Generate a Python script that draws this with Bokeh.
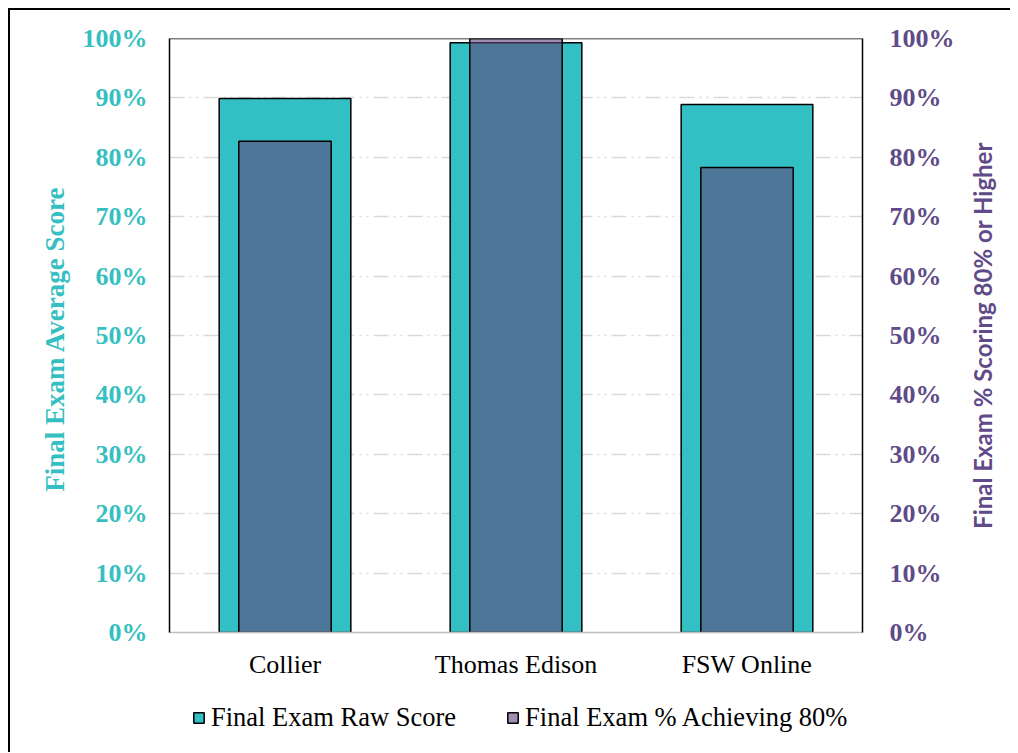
import math
from bokeh.plotting import figure
from bokeh.layouts import column, row
from bokeh.models import (ColumnDataSource, LinearAxis, NumeralTickFormatter, Span,
                          Legend, LegendItem, FixedTicker, Label, FactorRange, Range1d)
from bokeh.embed import file_html
from bokeh.resources import INLINE

campuses = ["Collier", "Thomas Edison", "FSW Online"]
raw_score = [0.899, 0.993, 0.889]
pct_achieving_80 = [0.827, 1.000, 0.783]
ticks = [i / 10 for i in range(11)]

TEAL = "#33C0C4"
TEAL_TXT = "#36BFC2"
PURPLE = "#60447B"
PURPLE_TXT = "#5F4B88"

src = ColumnDataSource(dict(campus=campuses, raw=raw_score, pct=pct_achieving_80))

p = figure(x_range=campuses, y_range=(0, 1), frame_width=693, frame_height=594,
           output_backend="svg", toolbar_location=None,
           min_border_left=159, min_border_right=100, min_border_top=28,
           min_border_bottom=60)
p.outline_line_color = None
p.background_fill_color = "white"
p.border_fill_color = "white"

bar_raw = dict(fill_color=TEAL, line_color="black", line_width=1.5)
bar_pct = dict(fill_color=PURPLE, fill_alpha=0.6, line_color="black", line_alpha=1.0,
               line_width=1.5)
p.vbar(x="campus", top="raw", width=0.57, source=src, **bar_raw)
p.vbar(x="campus", top="pct", width=0.40, source=src, **bar_pct)

p.xgrid.grid_line_color = None
p.ygrid.ticker = FixedTicker(ticks=ticks)
p.ygrid.grid_line_color = "#D9D9D9"
p.ygrid.grid_line_width = 1.5
p.ygrid.grid_line_dash = "15 5 2 5 2 5"

p.add_layout(Span(location=1.0, dimension="width", line_color="black", line_width=1.5))

def style_axis(ax, color, standoff):
    ax.ticker = FixedTicker(ticks=ticks)
    ax.formatter = NumeralTickFormatter(format="0%")
    ax.major_tick_out = 0
    ax.major_tick_in = 0
    ax.minor_tick_out = 0
    ax.minor_tick_in = 0
    ax.axis_line_color = "black"
    ax.axis_line_width = 1.5
    ax.major_label_standoff = standoff
    ax.major_label_text_font = "Liberation Serif"
    ax.major_label_text_font_style = "bold"
    ax.major_label_text_font_size = "26px"
    ax.major_label_text_color = color

ly = p.yaxis[0]
style_axis(ly, TEAL_TXT, 22)
ly.axis_label = "Final Exam  Average Score"
ly.axis_label_text_font = "Liberation Serif"
ly.axis_label_text_font_style = "bold"
ly.axis_label_text_font_size = "27px"
ly.axis_label_text_color = TEAL_TXT
ly.axis_label_standoff = 10

ry = LinearAxis()
style_axis(ry, PURPLE_TXT, 27)
p.add_layout(ry, "right")

xa = p.xaxis[0]
xa.major_tick_out = 0
xa.major_tick_in = 0
xa.axis_line_color = "#BFBFBF"
xa.axis_line_width = 1.5
xa.major_label_standoff = 17
xa.major_label_text_font = "Liberation Serif"
xa.major_label_text_font_size = "26px"
xa.major_label_text_color = "black"

# right-hand title strip (text reads bottom-to-top)
r = figure(frame_width=48, frame_height=594, x_range=(0, 48), y_range=(0, 1),
           output_backend="svg", toolbar_location=None,
           min_border_left=0, min_border_right=0, min_border_top=28, min_border_bottom=60)
r.axis.visible = False
r.grid.visible = False
r.outline_line_color = None
r.border_fill_color = "white"
r.add_layout(Label(x=20, y=0.5, text="Final Exam % Scoring 80% or Higher",
                   angle=math.pi / 2, text_align="center", text_baseline="middle",
                   text_font="Lato", text_font_style="bold", text_font_size="24px",
                   text_color=PURPLE_TXT))

# legend strip: its bars use factors that are not in this strip's range, so
# only the legend swatches are drawn
q = figure(x_range=FactorRange(factors=["legend"]), y_range=Range1d(5, 6),
           frame_width=693, frame_height=60,
           output_backend="svg", toolbar_location=None,
           min_border_left=159, min_border_right=148, min_border_top=0, min_border_bottom=0)
q.axis.visible = False
q.grid.visible = False
q.outline_line_color = None
q.border_fill_color = "white"
l1 = q.vbar(x="campus", top="raw", width=0.57, source=src, **bar_raw)
l2 = q.vbar(x="campus", top="pct", width=0.40, source=src, **bar_pct)
legend = Legend(items=[LegendItem(label="Final Exam Raw Score", renderers=[l1]),
                       LegendItem(label="Final Exam % Achieving 80%", renderers=[l2])],
                orientation="horizontal", location=(23, 19))
legend.label_text_font = "Liberation Serif"
legend.label_text_font_size = "26.5px"
legend.label_text_color = "black"
legend.glyph_width = 13
legend.glyph_height = 13
legend.label_standoff = 6
legend.spacing = 50
legend.padding = 0
legend.margin = 0
legend.border_line_color = None
legend.background_fill_alpha = 0
q.add_layout(legend, "center")

layout = column(row(p, r, spacing=0), q, spacing=0,
                styles={"border-left": "2px solid black", "border-top": "2px solid black",
                        "margin-left": "8px", "margin-top": "8px"})

open("out.html", "w").write(file_html(layout, INLINE))
